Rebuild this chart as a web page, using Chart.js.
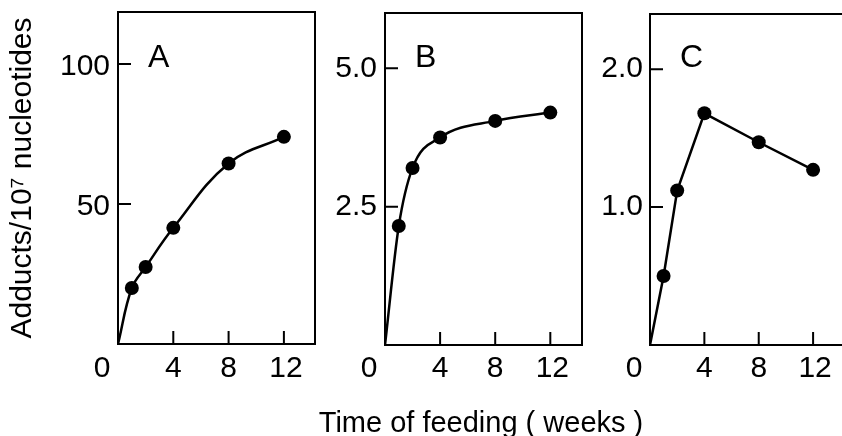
<!DOCTYPE html>
<html>
<head>
<meta charset="utf-8">
<script src="https://cdn.jsdelivr.net/npm/chart.js@4.4.1/dist/chart.umd.min.js"></script>
<style>
  html, body { margin: 0; padding: 0; background: #fff; }
  body { width: 842px; height: 436px; position: relative; overflow: hidden; }
  canvas { position: absolute; top: 0; }
  #xTitle {
    position: absolute; left: 481px; top: 408px; transform: translateX(-50%);
    white-space: nowrap; font: 29px "Liberation Sans", Arial, sans-serif; line-height: 29px; color: #000;
  }
</style>
</head>
<body>
<canvas id="chartA" width="330" height="436" style="left:0px"></canvas>
<canvas id="chartB" width="260" height="436" style="left:330px"></canvas>
<canvas id="chartC" width="260" height="436" style="left:590px"></canvas>
<div id="xTitle">Time of feeding ( weeks )</div>
<script>
// weeks of feeding and adduct levels
const weeks = [0, 1, 2, 4, 8, 12];
const adductsA = [0, 20, 27.5, 41.5, 64.5, 74];
const adductsB = [0, 2.15, 3.2, 3.75, 4.05, 4.2];
const adductsC = [0, 0.5, 1.12, 1.68, 1.47, 1.27];

const xTicks = [0, 4, 8, 12];
const yTicksA = [50, 100];
const yTicksB = [2.5, 5.0];
const yTicksC = [1.0, 2.0];

const FONT = '"Liberation Sans", Arial, sans-serif';

// frame, inward tick marks, x labels and panel letter
const panelFrame = {
    id: 'panelFrame',
    afterDraw(chart, args, opts) {
        const ctx = chart.ctx;
        const a = chart.chartArea;
        const x = chart.scales.x, y = chart.scales.y;
        ctx.save();
        ctx.strokeStyle = '#000';
        ctx.lineWidth = 2;
        ctx.strokeRect(a.left, a.top, a.right - a.left, a.bottom - a.top);
        ctx.beginPath();
        xTicks.forEach(function(v) {
            const px = x.getPixelForValue(v);
            ctx.moveTo(px, a.bottom);
            ctx.lineTo(px, a.bottom - 13);
        });
        opts.yTicks.forEach(function(v) {
            const py = y.getPixelForValue(v);
            ctx.moveTo(a.left, py);
            ctx.lineTo(a.left + 13, py);
        });
        ctx.stroke();

        ctx.fillStyle = '#000';
        ctx.font = '30px ' + FONT;
        ctx.textAlign = 'center';
        ctx.textBaseline = 'middle';
        xTicks.forEach(function(v) {
            const shift = v === 0 ? -16 : (v === 12 ? 2 : 0);
            ctx.fillText(String(v), x.getPixelForValue(v) + shift, 369);
        });

        ctx.font = '32px ' + FONT;
        ctx.textAlign = 'left';
        ctx.textBaseline = 'alphabetic';
        ctx.fillText(opts.letter, a.left + 30, 67);
        ctx.restore();
    }
};

function makePanel(id, values, cfg) {
    const points = weeks.map(function(w, i) { return {x: w, y: values[i]}; });
    return new Chart(document.getElementById(id), {
        type: 'line',
        data: {
            datasets: [{
                data: points,
                borderColor: '#000',
                borderWidth: 2.5,
                backgroundColor: '#000',
                pointBackgroundColor: '#000',
                pointBorderWidth: 0,
                pointRadius: weeks.map(function(w) { return w === 0 ? 0 : 7; }),
                cubicInterpolationMode: cfg.mode || 'default',
                tension: cfg.tension || 0
            }]
        },
        plugins: [panelFrame],
        options: {
            responsive: false,
            animation: false,
            events: [],
            layout: { padding: { top: cfg.top, bottom: 436 - cfg.bottom, right: cfg.right, left: 0 } },
            plugins: {
                legend: { display: false },
                tooltip: { enabled: false },
                panelFrame: { letter: cfg.letter, yTicks: cfg.yTicks }
            },
            scales: {
                x: {
                    type: 'linear',
                    display: false,
                    min: 0,
                    max: cfg.xMax
                },
                y: {
                    type: 'linear',
                    min: 0,
                    max: cfg.yMax,
                    afterBuildTicks: function(scale) {
                        scale.ticks = cfg.yTicks.map(function(v) { return {value: v}; });
                    },
                    afterFit: function(scale) {
                        scale.width = cfg.axisWidth;
                        scale.paddingTop = 0;
                        scale.paddingBottom = 0;
                    },
                    grid: { display: false, drawTicks: false },
                    border: { display: false },
                    ticks: {
                        color: '#000',
                        padding: cfg.labelPad,
                        labelOffset: cfg.labelOffset || 0,
                        font: { family: FONT, size: 30 },
                        callback: cfg.format
                    },
                    title: cfg.title ? {
                        display: true,
                        text: cfg.title,
                        color: '#000',
                        font: { family: FONT, size: 30 },
                        padding: { top: 5, bottom: 0 }
                    } : { display: false }
                }
            }
        }
    });
}

makePanel('chartA', adductsA, {
    letter: 'A', yTicks: yTicksA, tension: 0.4,
    top: 12, bottom: 344, right: 15, axisWidth: 118, labelPad: 8, labelOffset: 3,
    xMax: 14.25, yMax: 118.6,
    title: 'Adducts/10\u2077 nucleotides',
    format: function(v) { return String(v); }
});
makePanel('chartB', adductsB, {
    letter: 'B', yTicks: yTicksB, mode: 'monotone',
    top: 13, bottom: 345, right: 8, axisWidth: 55, labelPad: 8,
    xMax: 14.3, yMax: 6.0,
    format: function(v) { return v.toFixed(1); }
});
makePanel('chartC', adductsC, {
    letter: 'C', yTicks: yTicksC,
    top: 14, bottom: 345, right: 5, axisWidth: 60, labelPad: 7,
    xMax: 14.2, yMax: 2.4,
    format: function(v) { return v.toFixed(1); }
});
</script>
</body>
</html>
